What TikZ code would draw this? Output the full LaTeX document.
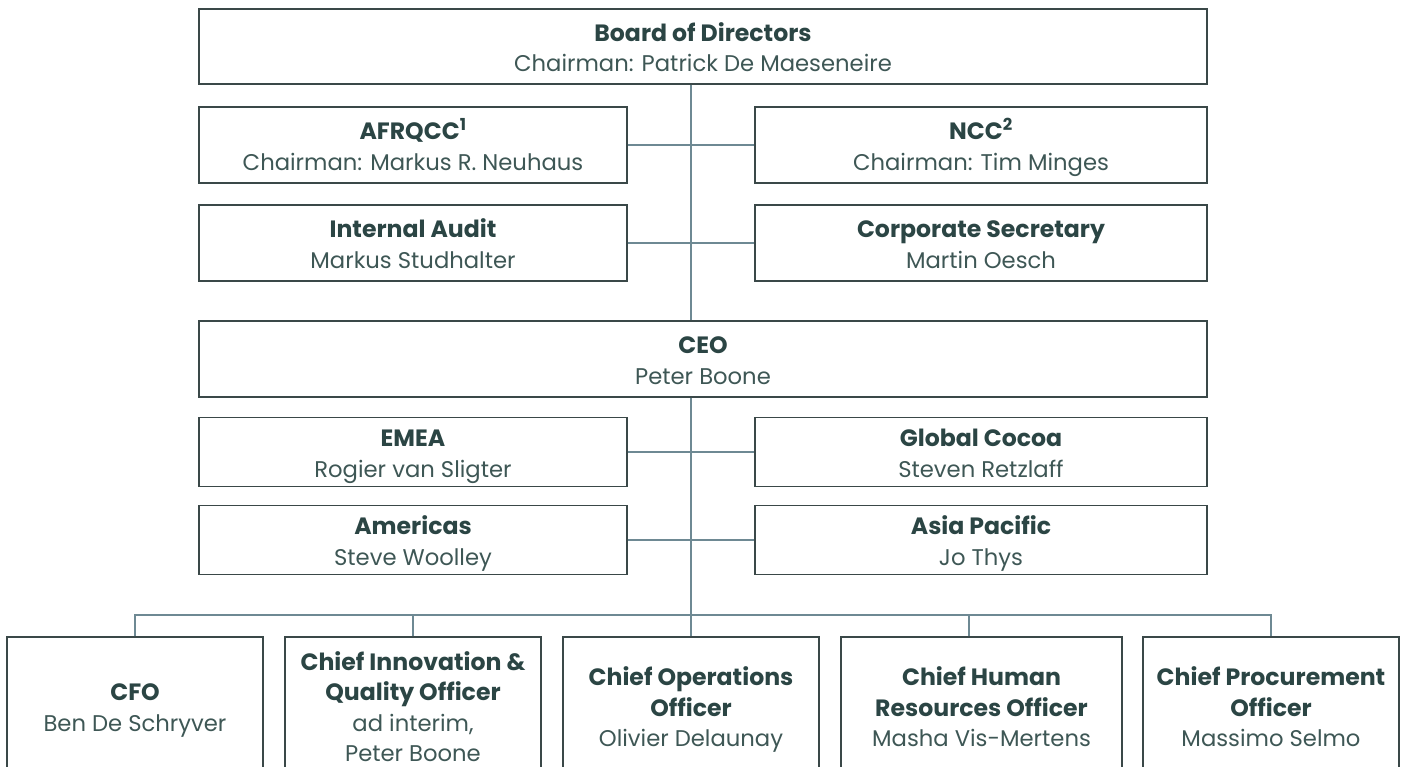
\documentclass[tikz,border=0pt]{standalone}
\usepackage{fontspec}
\setmainfont{Poppins}
\definecolor{titlec}{HTML}{2B4544}
\definecolor{namec}{HTML}{3E5755}
\definecolor{boxc}{HTML}{3A4848}
\definecolor{linec}{HTML}{6E8993}
\newcommand{\ttl}[1]{{\fontsize{23.6}{30.5}\selectfont\bfseries\color{titlec}#1}}
\newcommand{\fst}{\rule{0pt}{29.5pt}}
\begin{document}
\begin{tikzpicture}[x=1pt,y=-1pt,
  box/.style={draw=boxc, line width=1.3pt, inner sep=0pt, align=center,
    text=namec, font=\fontsize{22.7}{30.5}\selectfont,
    execute at end node={\rule[-9.15pt]{0pt}{9.15pt}}},
  conn/.style={draw=linec, line width=1.2pt}]
\clip (0,0) rectangle (1406,767);
\fill[white] (0,0) rectangle (1406,767);
% top section
\node[box, minimum width=1008pt, minimum height=75pt] (board) at (703,46.5)
  {\fst\ttl{Board of Directors}\\Chairman: Patrick De Maeseneire};
\node[box, minimum width=428pt, minimum height=76pt] (afrqcc) at (413,145)
  {\fst\ttl{AFRQCC\textsuperscript{1}}\\Chairman: Markus R. Neuhaus};
\node[box, minimum width=452pt, minimum height=76pt] (ncc) at (981,145)
  {\fst\ttl{NCC\textsuperscript{2}}\\Chairman: Tim Minges};
\node[box, minimum width=428pt, minimum height=76pt] (audit) at (413,243)
  {\fst\ttl{Internal Audit}\\Markus Studhalter};
\node[box, minimum width=452pt, minimum height=76pt] (secr) at (981,243)
  {\fst\ttl{Corporate Secretary}\\Martin Oesch};
\node[box, minimum width=1008pt, minimum height=76pt] (ceo) at (703,359)
  {\fst\ttl{CEO}\\Peter Boone};
\node[box, minimum width=428pt, minimum height=66pt] (emea) at (413,452)
  {\fst\ttl{EMEA}\\Rogier van Sligter};
\node[box, minimum width=452pt, minimum height=66pt] (cocoa) at (981,452)
  {\fst\ttl{Global Cocoa}\\Steven Retzlaff};
\node[box, minimum width=428pt, minimum height=66pt] (americas) at (413,540)
  {\fst\ttl{Americas}\\Steve Woolley};
\node[box, minimum width=452pt, minimum height=66pt] (asia) at (981,540)
  {\fst\ttl{Asia Pacific}\\Jo Thys};
% bottom row
\node[box, minimum width=256pt, minimum height=138pt] (cfo) at (135,706)
  {\fst\ttl{CFO}\\Ben De Schryver};
\node[box, minimum width=256pt, minimum height=138pt] (ciqo) at (413,706)
  {\fst\ttl{Chief Innovation \&}\\\ttl{Quality Officer}\\ad interim,\\Peter Boone};
\node[box, minimum width=256pt, minimum height=138pt] (coo) at (691,706)
  {\fst\ttl{Chief Operations}\\\ttl{Officer}\\Olivier Delaunay};
\node[box, minimum width=281pt, minimum height=138pt] (chro) at (981.5,706)
  {\fst\ttl{Chief Human}\\\ttl{Resources Officer}\\Masha Vis-Mertens};
\node[box, minimum width=256pt, minimum height=138pt] (cpo) at (1271,706)
  {\fst\ttl{Chief Procurement}\\\ttl{Officer}\\Massimo Selmo};
% connectors
\coordinate (trunk) at (691,0);
\coordinate (bus) at (691,615);
\coordinate (chrotick) at (969,0);
\draw[conn] (board.south -| trunk) -- (ceo.north -| trunk);
\draw[conn] (ceo.south -| trunk) -- (bus);
\draw[conn] (afrqcc.east) -- (ncc.west);
\draw[conn] (audit.east) -- (secr.west);
\draw[conn] (emea.east) -- (cocoa.west);
\draw[conn] (americas.east) -- (asia.west);
\draw[conn] (cfo.north) -- (cfo.north |- bus) -- (cpo.north |- bus) -- (cpo.north);
\draw[conn] (ciqo.north) -- (ciqo.north |- bus);
\draw[conn] (coo.north) -- (bus);
\draw[conn] (chro.north -| chrotick) -- (chrotick |- bus);
\end{tikzpicture}
\end{document}
